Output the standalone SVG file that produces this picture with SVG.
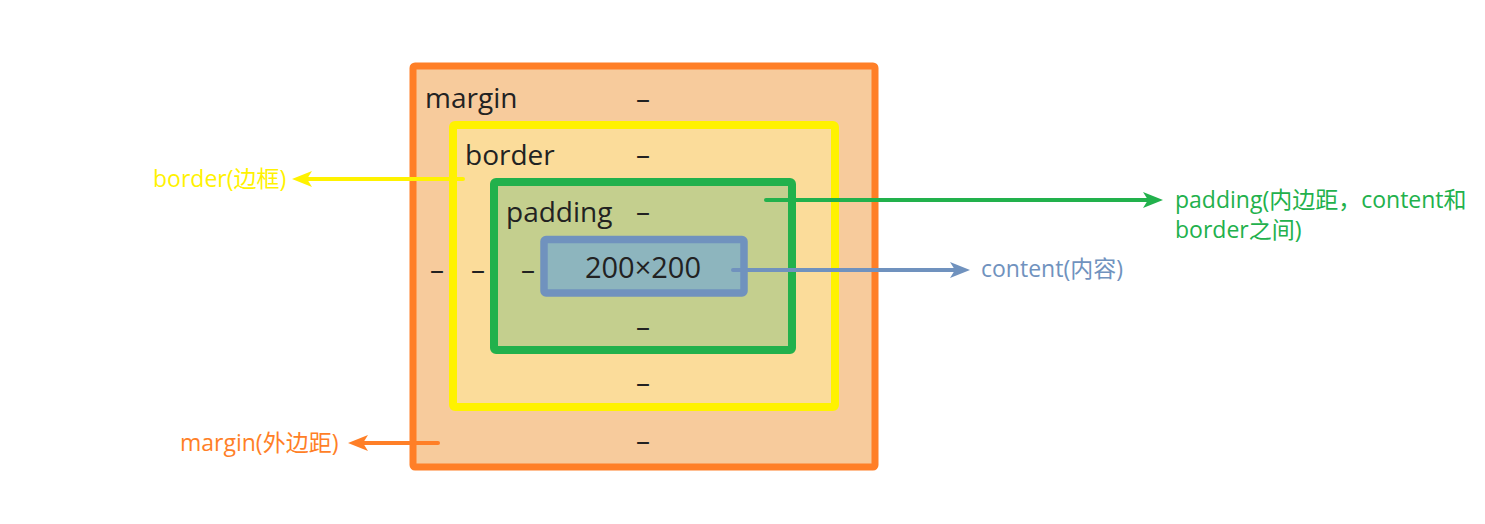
<svg xmlns="http://www.w3.org/2000/svg" width="1485" height="524" viewBox="0 0 1485 524">
<style>
.box{font-family:"Open Sans","Noto Sans CJK SC",sans-serif;font-size:28px;fill:#222}
.dash{font-family:"Open Sans","Noto Sans CJK SC",sans-serif;font-size:28px;fill:#222;text-anchor:middle}
.lbl{font-family:"Open Sans","Noto Sans CJK SC",sans-serif;font-size:23px}
.ln{stroke-width:4;fill:none;stroke-linecap:round}
</style>
<defs>
<marker id="aY" markerUnits="userSpaceOnUse" markerWidth="20" markerHeight="16" refX="8" refY="8" orient="auto"><path d="M0,0 L20,8 L0,16 L5,8 z" fill="#FFF200"/></marker>
<marker id="aO" markerUnits="userSpaceOnUse" markerWidth="20" markerHeight="16" refX="8" refY="8" orient="auto"><path d="M0,0 L20,8 L0,16 L5,8 z" fill="#FF7F27"/></marker>
<marker id="aG" markerUnits="userSpaceOnUse" markerWidth="20" markerHeight="16" refX="8" refY="8" orient="auto"><path d="M0,0 L20,8 L0,16 L5,8 z" fill="#22B14C"/></marker>
<marker id="aB" markerUnits="userSpaceOnUse" markerWidth="20" markerHeight="16" refX="8" refY="8" orient="auto"><path d="M0,0 L20,8 L0,16 L5,8 z" fill="#7092BE"/></marker>
</defs>
<rect width="1485" height="524" fill="#fff"/>
<g id="margin">
<rect x="413" y="66" width="462" height="401" rx="2" fill="#F7CB9C" stroke="#FF7F27" stroke-width="7"/>
<text class="box" x="425" y="108">margin</text>
<text class="dash" x="643" y="108">–</text>
<text class="dash" x="437" y="279">–</text>
<text class="dash" x="643" y="450">–</text>
</g>
<g id="border">
<rect x="453" y="125" width="382" height="282" rx="2" fill="#FBDC9A" stroke="#FFF200" stroke-width="8"/>
<text class="box" x="465" y="165">border</text>
<text class="dash" x="643" y="164">–</text>
<text class="dash" x="478" y="279">–</text>
<text class="dash" x="643" y="392">–</text>
</g>
<g id="padding">
<rect x="494" y="182" width="298" height="168" rx="2" fill="#C4CF8E" stroke="#22B14C" stroke-width="8"/>
<text class="box" x="506" y="222">padding</text>
<text class="dash" x="643" y="221">–</text>
<text class="dash" x="528" y="279">–</text>
<text class="dash" x="643" y="336">–</text>
</g>
<g id="content">
<rect x="544" y="239.5" width="200" height="53.5" rx="2" fill="#8DB5BE" stroke="#7092BE" stroke-width="7.5"/>
<text class="box" x="643" y="278" text-anchor="middle" style="font-size:29px">200×200</text>
</g>
<g id="connectors">
<line class="ln" x1="463" y1="179" x2="304" y2="179" stroke="#FFF200" marker-end="url(#aY)"/>
<line class="ln" x1="438" y1="443" x2="360" y2="443" stroke="#FF7F27" marker-end="url(#aO)"/>
<line class="ln" x1="766" y1="200" x2="1151" y2="200" stroke="#22B14C" marker-end="url(#aG)"/>
<line class="ln" x1="733" y1="270" x2="958" y2="270" stroke="#7092BE" marker-end="url(#aB)"/>
</g>
<g id="labels">
<text class="lbl" x="153" y="187" fill="#FFF200">border(边框)</text>
<text class="lbl" x="180" y="451" fill="#FF7F27">margin(外边距)</text>
<text class="lbl" x="1175" y="208" fill="#22B14C">padding(内边距，content和</text>
<text class="lbl" x="1175" y="238" fill="#22B14C">border之间)</text>
<text class="lbl" x="981" y="277" fill="#7092BE">content(内容)</text>
</g>
</svg>
